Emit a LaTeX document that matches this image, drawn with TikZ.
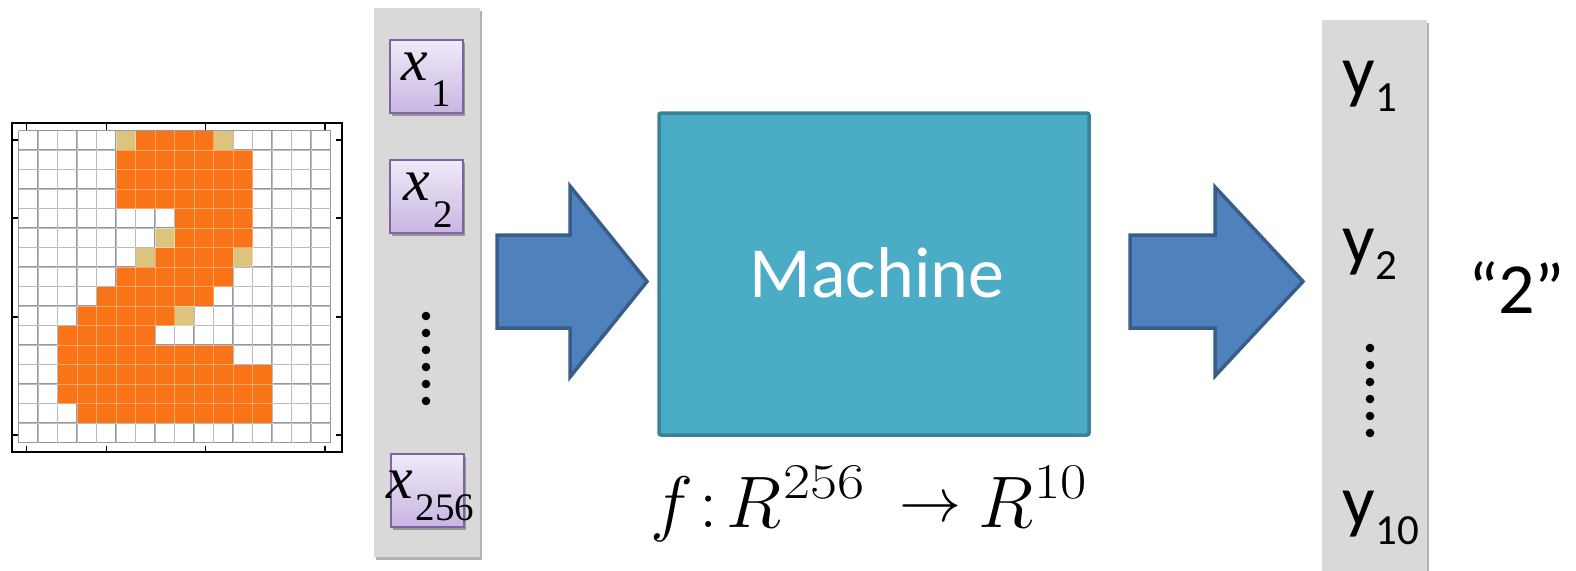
\RequirePackage{fix-cm}
\documentclass[tikz,border=0pt]{standalone}
\usepackage[no-math]{fontspec}
\setmainfont{Carlito}
\newfontfamily\tnr{Liberation Serif}
\usetikzlibrary{shadows}
\definecolor{barGray}{HTML}{D9D9D9}
\definecolor{lavTop}{HTML}{F0EAF8}
\definecolor{lavBot}{HTML}{C8B6E2}
\definecolor{purpBorder}{HTML}{8064A2}
\definecolor{machFill}{HTML}{4BACC6}
\definecolor{machBorder}{HTML}{3A8298}
\definecolor{arrFill}{HTML}{4F81BD}
\definecolor{arrBorder}{HTML}{385D8A}
\definecolor{pixOrange}{HTML}{F97416}
\definecolor{pixTan}{HTML}{DCC47E}
\definecolor{gridC}{HTML}{9298A6}
\newcommand\xsub[3]{{\tnr\fontsize{60}{60}\selectfont\itshape x}\kern#3pt\raisebox{-#2pt}{\tnr\fontsize{39}{40}\selectfont #1}}
\newcommand\ysub[2]{y\kern1pt\raisebox{-#2pt}{\fontsize{43}{44}\selectfont #1}}
\begin{document}
\begin{tikzpicture}[x=1pt,y=-1pt,
  graybar/.style={rectangle, fill=barGray, draw=none, inner sep=0pt,
    drop shadow={shadow xshift=1.5pt, shadow yshift=-2.5pt, opacity=0.3, fill=black}},
  xbox/.style={rectangle, inner sep=0pt, minimum width=73pt, minimum height=73pt,
    draw=purpBorder, line width=2pt, top color=lavTop, bottom color=lavBot,
    drop shadow={shadow xshift=2pt, shadow yshift=-3pt, opacity=0.3, fill=black}},
  xlabel/.style={anchor=base west, inner sep=0pt, text=black},
  ylabel/.style={anchor=base west, inner sep=0pt, font=\fontsize{72}{80}\selectfont, text=black},
  machbox/.style={rectangle, rounded corners=2pt, fill=machFill, draw=machBorder, line width=3.5pt,
    minimum width=430pt, minimum height=322pt, inner sep=0pt},
  blockarrow/.style={fill=arrFill, draw=arrBorder, line width=3.5pt, line join=miter},
  gridline/.style={draw=gridC, line width=1.1pt},
  gridlight/.style={draw=white, line width=0.8pt, opacity=0.35},
  mathpart/.style={anchor=base west, inner sep=0pt, font=\fontsize{73}{80}\selectfont},
  suppart/.style={anchor=base west, inner sep=0pt, font=\fontsize{50}{52}\selectfont},
  dotc/.style={fill=black}
]
\useasboundingbox (0,0) rectangle (1576,570);

% ---------- pixel grid ----------
\foreach \i in {0,...,16} {
  \draw[gridline] (18.5+19.5*\i,130.5) -- (18.5+19.5*\i,442.5);
  \draw[gridline] (18.5,130.5+19.5*\i) -- (330.5,130.5+19.5*\i);
}
\foreach \r/\a/\b in {0/6/9,1/5/11,2/5/11,3/5/11,4/8/11,5/8/11,6/7/10,7/5/10,8/4/9,9/3/7,10/2/6,11/2/10,12/2/12,13/2/12,14/3/12}
  \fill[pixOrange] (18.5+19.5*\a,130.5+19.5*\r) rectangle (38+19.5*\b,150+19.5*\r);
\foreach \r/\c in {0/5,0/10,5/7,6/6,6/11,9/8}
  \fill[pixTan] (18.5+19.5*\c,130.5+19.5*\r) rectangle (38+19.5*\c,150+19.5*\r);
\foreach \i in {1,...,15} {
  \draw[gridlight] (18.5+19.5*\i,130.5) -- (18.5+19.5*\i,442.5);
  \draw[gridlight] (18.5,130.5+19.5*\i) -- (330.5,130.5+19.5*\i);
}
\draw[black, line width=2pt] (11.7,123.3) rectangle (341.7,451.7);
\foreach \t in {26.7,106.7,205.7,325} {
  \draw[black, line width=1.5pt] (\t,123.3) -- (\t,129.5);
  \draw[black, line width=1.5pt] (\t,451.7) -- (\t,445.5);
}
\foreach \t in {140,218,317,435} {
  \draw[black, line width=1.5pt] (11.7,\t) -- (17.9,\t);
  \draw[black, line width=1.5pt] (341.7,\t) -- (335.5,\t);
}

% ---------- input column ----------
\node[graybar, minimum width=106pt, minimum height=549pt] (incol) at (427,282.5) {};
\node[xbox] (xa) at (426.5,76.5) {};
\node[xbox] (xb) at (426.5,196) {};
\node[xbox] (xc) at (427,490) {};
\node[xlabel] (xla) at (401,80) {\xsub{1}{26}{4}};
\node[xlabel] (xlb) at (403,200) {\xsub{2}{27}{4}};
\node[xlabel] (xlc) at (386,498) {\xsub{256}{22}{3}};
\foreach \i in {0,...,5} \fill[dotc] (426,316+17*\i) circle (4.3);

% ---------- arrows ----------
\path[blockarrow] (497,235) -- (570,235) -- (570,186) -- (647,281.5) -- (570,377) -- (570,328) -- (497,328) -- cycle;
\path[blockarrow] (1130,235) -- (1215,235) -- (1215,187) -- (1303,281.5) -- (1215,376) -- (1215,328) -- (1130,328) -- cycle;

% ---------- machine ----------
\node[machbox] (machine) at (874,274) {};
\node[anchor=base, inner sep=0pt, text=white, font=\fontsize{72}{80}\selectfont] (mtext) at (877,297) {Machine};

% ---------- f : R^256 -> R^10 ----------
\node[mathpart] (ff) at (650,527) {$f$};
\node[mathpart] (fcolon) at (699,527) {$:$};
\node[mathpart] (fra) at (726,527) {$R$};
\node[suppart] (fsa) at (783,498) {\scalebox{1.18}[1]{$256$}};
\node[anchor=base west, inner sep=0pt, font=\fontsize{62}{64}\selectfont] (farrow) at (899,521.5) {$\rightarrow$};
\node[mathpart] (frb) at (978,527) {$R$};
\node[suppart] (fsb) at (1034,498) {\scalebox{1.14}[1]{$10$}};

% ---------- output column ----------
\node[graybar, minimum width=105pt, minimum height=560pt] (outcol) at (1374.5,300) {};
\node[ylabel] (ya) at (1342,95) {\ysub{1}{16}};
\node[ylabel] (yb) at (1342,263) {\ysub{2}{16}};
\node[ylabel] (yc) at (1342,525) {\ysub{10}{19}};
\foreach \i in {0,...,5} \fill[dotc] (1370,348+17*\i) circle (4.3);

\node[anchor=base west, inner sep=0pt, font=\fontsize{72}{80}\selectfont] (result) at (1468,313) {“2”};
\end{tikzpicture}
\end{document}
